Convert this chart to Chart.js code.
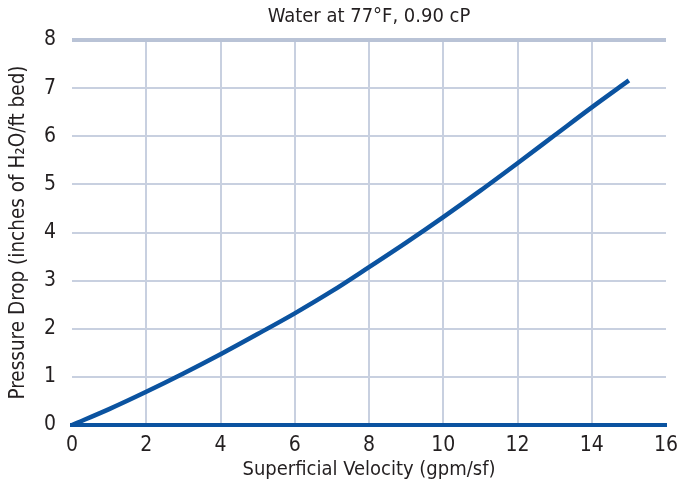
<!DOCTYPE html>
<html>
<head>
<meta charset="utf-8">
<script src="https://cdn.jsdelivr.net/npm/chart.js@4.4.1/dist/chart.umd.min.js"></script>
<style>
  html, body { margin: 0; padding: 0; background: #fff; }
</style>
</head>
<body>
<canvas id="pressureChart" width="677" height="486"></canvas>
<script>
// values
const velocity = [0, 1, 2, 3, 4, 5, 6, 7, 8, 9, 10, 11, 12, 13, 14, 15];
const pressureDrop = [0, 0.33, 0.69, 1.07, 1.47, 1.89, 2.32, 2.78, 3.28, 3.79, 4.32, 4.87, 5.44, 6.02, 6.60, 7.16];
const xTicks = [0, 2, 4, 6, 8, 10, 12, 14, 16];
const yTicks = [0, 1, 2, 3, 4, 5, 6, 7, 8];
const chartTitle = 'Water at 77°F, 0.90 cP';
const xTitle = 'Superficial Velocity (gpm/sf)';
const yTitle = 'Pressure Drop (inches of H₂O/ft bed)';

const FONT = "'Liberation Sans Narrow', 'DejaVu Sans Condensed', sans-serif";
const TEXT = '#231f20';
const GRID = '#c8d0e0';
const BLUE = '#0b53a0';

// title centred over the plot area rather than the canvas
const plotTitle = {
  id: 'plotTitle',
  afterDraw(chart) {
    const { ctx, chartArea } = chart;
    ctx.save();
    ctx.font = '20px ' + FONT;
    ctx.fillStyle = TEXT;
    ctx.textAlign = 'center';
    ctx.textBaseline = 'middle';
    ctx.fillText(chartTitle, (chartArea.left + chartArea.right) / 2, 17);
    ctx.restore();
  }
};

new Chart(document.getElementById('pressureChart'), {
  type: 'line',
  data: {
    datasets: [{
      data: velocity.map((v, i) => ({ x: v, y: pressureDrop[i] })),
      borderColor: BLUE,
      borderWidth: 4.5,
      pointRadius: 0,
      cubicInterpolationMode: 'monotone',
      clip: false
    }]
  },
  options: {
    responsive: false,
    animation: false,
    layout: { padding: { left: 0, top: 40, right: 11, bottom: 0 } },
    plugins: { legend: { display: false }, tooltip: { enabled: false } },
    scales: {
      x: {
        type: 'linear',
        min: 0,
        max: 16,
        afterBuildTicks: s => { s.ticks = xTicks.map(v => ({ value: v })); },
        afterFit: s => { s.height = 61; s.paddingLeft = 0; s.paddingRight = 0; },
        ticks: { color: TEXT, font: { family: FONT, size: 21 }, padding: 8 },
        grid: {
          drawTicks: false,
          color: c => (c.tick && (c.tick.value === 0 || c.tick.value === 16)) ? 'rgba(0,0,0,0)' : GRID,
          lineWidth: 2
        },
        border: { color: BLUE, width: 4 },
        title: { display: true, text: xTitle, color: TEXT, font: { family: FONT, size: 20 }, padding: { top: 0, bottom: 4 } }
      },
      y: {
        min: 0,
        max: 8,
        afterBuildTicks: s => { s.ticks = yTicks.map(v => ({ value: v })); },
        afterFit: s => { s.width = 72; },
        ticks: { color: TEXT, font: { family: FONT, size: 21 }, padding: 16 },
        grid: {
          drawTicks: false,
          color: c => {
            if (!c.tick) return GRID;
            if (c.tick.value === 0) return 'rgba(0,0,0,0)';
            return c.tick.value === 8 ? '#b9c3d6' : GRID;
          },
          lineWidth: c => (c.tick && c.tick.value === 8) ? 4 : 2
        },
        border: { display: false },
        title: { display: true, text: yTitle, color: TEXT, font: { family: FONT, size: 20.5 }, padding: { top: 6, bottom: 4 } }
      }
    }
  },
  plugins: [plotTitle]
});
</script>
</body>
</html>
